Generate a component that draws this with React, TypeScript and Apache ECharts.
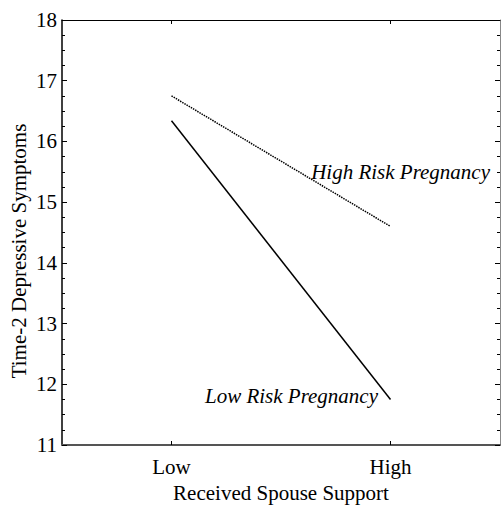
import React, { useEffect, useRef } from "react";
import * as echarts from "echarts";

const categories = ["Low", "High"];
const highRiskValues = [16.75, 14.6];
const lowRiskValues = [16.34, 11.75];
const yMin = 11;
const yMax = 18;
const yAxisName = "Time-2 Depressive Symptoms";
const xAxisName = "Received Spouse Support";
const highRiskLabel = "High Risk Pregnancy";
const lowRiskLabel = "Low Risk Pregnancy";

const FONT = "Liberation Serif";
const FS = 21;

export default function App() {
  const ref = useRef<HTMLDivElement>(null);
  useEffect(() => {
    if (!ref.current) return;
    const chart = echarts.init(ref.current, null, { renderer: "svg" });
    const yCommon = {
      type: "value" as const,
      min: yMin,
      max: yMax,
      interval: 1,
      splitLine: { show: false },
      axisTick: { show: true, inside: true, length: 5, lineStyle: { color: "#000", width: 1 } },
      minorTick: { show: true, splitNumber: 4, length: 3, lineStyle: { color: "#000", width: 1 } },
    };
    chart.setOption({
      animation: false,
      backgroundColor: "#fff",
      grid: { left: 62, top: 20, right: 1, bottom: 57, containLabel: false },
      xAxis: [
        {
          type: "category",
          data: categories,
          position: "bottom",
          boundaryGap: true,
          axisLine: { show: true, lineStyle: { color: "#555", width: 2 } },
          axisTick: { show: true, inside: true, alignWithLabel: true, length: 4, lineStyle: { color: "#000", width: 1 } },
          axisLabel: { show: true, fontFamily: FONT, fontSize: FS, color: "#000", margin: 11 },
          name: xAxisName,
          nameLocation: "middle",
          nameGap: 37,
          nameTextStyle: { fontFamily: FONT, fontSize: FS, color: "#000" },
          splitLine: { show: false },
        },
        {
          type: "category",
          data: categories,
          position: "top",
          boundaryGap: true,
          axisLine: { show: true, lineStyle: { color: "#000", width: 1 } },
          axisTick: { show: true, inside: true, alignWithLabel: true, length: 4, lineStyle: { color: "#000", width: 1 } },
          axisLabel: { show: false },
          splitLine: { show: false },
        },
      ],
      yAxis: [
        {
          ...yCommon,
          position: "left",
          axisLine: { show: true, lineStyle: { color: "#000", width: 1.5 } },
          axisLabel: { show: true, fontFamily: FONT, fontSize: FS, color: "#000", margin: 5 },
        },
        {
          ...yCommon,
          position: "right",
          axisLine: { show: true, lineStyle: { color: "#888", width: 1 } },
          axisLabel: { show: false },
        },
      ],
      graphic: [
        {
          type: "text",
          x: 19,
          y: 251,
          rotation: Math.PI / 2,
          style: {
            text: yAxisName,
            fontFamily: FONT,
            fontSize: FS,
            fill: "#000",
            textAlign: "center",
            textVerticalAlign: "middle",
          },
        },
        {
          type: "text",
          x: 490,
          y: 172,
          style: {
            text: highRiskLabel,
            fontFamily: FONT,
            fontSize: FS,
            fontStyle: "italic",
            fill: "#000",
            textAlign: "right",
            textVerticalAlign: "middle",
          },
        },
        {
          type: "text",
          x: 378,
          y: 396,
          style: {
            text: lowRiskLabel,
            fontFamily: FONT,
            fontSize: FS,
            fontStyle: "italic",
            fill: "#000",
            textAlign: "right",
            textVerticalAlign: "middle",
          },
        },
      ],
      series: [
        {
          name: highRiskLabel,
          type: "line",
          data: highRiskValues,
          xAxisIndex: 0,
          yAxisIndex: 0,
          showSymbol: false,
          symbol: "none",
          lineStyle: { color: "#000", width: 1.5, type: [1.5, 1] },
        },
        {
          name: lowRiskLabel,
          type: "line",
          data: lowRiskValues,
          xAxisIndex: 0,
          yAxisIndex: 0,
          showSymbol: false,
          symbol: "none",
          lineStyle: { color: "#000", width: 1.5, type: "solid" },
        },
      ],
    });
    return () => chart.dispose();
  }, []);
  return (
    <div
      ref={ref}
      style={{ position: "absolute", left: 0, top: 0, width: 501, height: 508 }}
    />
  );
}
